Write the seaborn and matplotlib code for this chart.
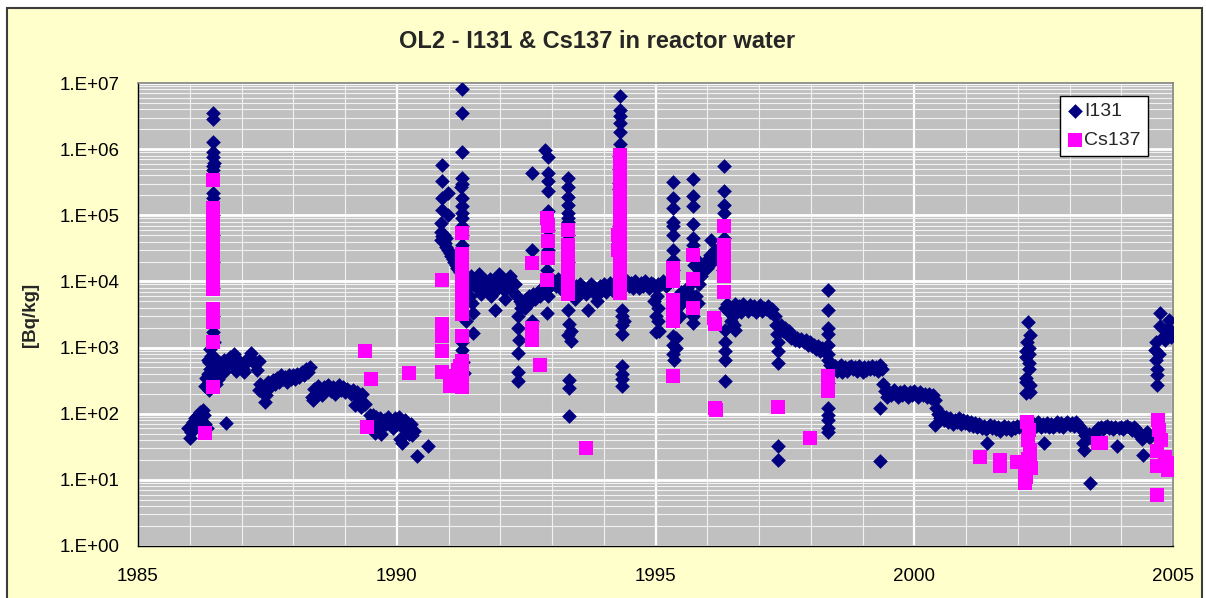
import matplotlib
matplotlib.use("Agg")
import matplotlib.pyplot as plt
from matplotlib.patches import Rectangle
from matplotlib.ticker import FixedLocator, LogLocator, FuncFormatter, NullFormatter, MultipleLocator
import numpy as np
import pandas as pd
import seaborn as sns

# ---- I131 activity in reactor water [Bq/kg], (decimal year, value) ----
i131_1986_1987 = [
    (1985.97, 60), (1986.00, 43), (1986.02, 52), (1986.04, 68), (1986.06, 75), (1986.08, 58),
    (1986.10, 85), (1986.12, 66), (1986.14, 92), (1986.16, 96), (1986.18, 72), (1986.20, 105),
    (1986.22, 80), (1986.25, 115), (1986.28, 95), (1986.30, 70), (1986.33, 60),
    (1986.45, 3.5e6), (1986.45, 2.9e6), (1986.45, 1.3e6), (1986.45, 9.0e5), (1986.45, 7.5e5),
    (1986.46, 6.2e5), (1986.44, 5.5e5), (1986.45, 4.8e5), (1986.45, 2.2e5), (1986.45, 1.8e5),
    (1986.45, 1.0e5), (1986.45, 5.0e4), (1986.45, 2.0e4), (1986.45, 8.0e3), (1986.45, 3.0e3),
    (1986.45, 1.7e3), (1986.46, 1.2e3),
    (1986.40, 950), (1986.42, 750), (1986.38, 600), (1986.40, 480), (1986.42, 380), (1986.38, 300),
    (1986.40, 250), (1986.48, 700), (1986.50, 550), (1986.52, 420), (1986.55, 330), (1986.50, 280),
    (1986.38, 230), (1986.36, 400), (1986.36, 650), (1986.30, 260), (1986.32, 350), (1986.70, 72),
    (1986.58, 480), (1986.62, 560), (1986.66, 650), (1986.70, 520), (1986.74, 600), (1986.78, 720),
    (1986.82, 560), (1986.86, 800), (1986.90, 640), (1986.94, 520), (1986.98, 600), (1987.02, 480),
    (1987.06, 560), (1987.10, 640), (1987.14, 720), (1987.18, 820), (1987.22, 660), (1987.26, 560),
    (1987.30, 460), (1987.33, 620), (1986.66, 420), (1986.90, 440), (1987.05, 430),
]

i131_1987_1990 = [
    (1987.36, 280), (1987.40, 210), (1987.45, 150), (1987.45, 250), (1987.48, 190), (1987.52, 300),
    (1987.56, 260), (1987.60, 320), (1987.64, 280), (1987.68, 350), (1987.72, 300), (1987.76, 380),
    (1987.80, 330), (1987.84, 360), (1987.88, 300), (1987.92, 390), (1987.96, 340), (1988.00, 380),
    (1988.04, 330), (1988.08, 400), (1988.12, 360), (1988.16, 420), (1988.20, 380), (1988.24, 470),
    (1988.28, 430), (1988.32, 500), (1987.34, 230), (1987.50, 230),
    (1988.36, 180), (1988.39, 160), (1988.40, 240), (1988.44, 200), (1988.48, 260), (1988.52, 220),
    (1988.56, 190), (1988.60, 250), (1988.64, 230), (1988.68, 270), (1988.72, 220), (1988.76, 250),
    (1988.80, 200), (1988.84, 240), (1988.88, 270), (1988.92, 230), (1988.96, 250), (1989.00, 210),
    (1989.04, 240), (1989.08, 220), (1989.12, 200), (1989.16, 230), (1989.20, 190), (1989.24, 210),
    (1989.28, 180), (1989.32, 200), (1989.19, 135), (1989.39, 140), (1989.30, 125),
    (1989.48, 95), (1989.52, 80), (1989.54, 96), (1989.56, 70), (1989.58, 51), (1989.60, 90),
    (1989.64, 75), (1989.68, 85), (1989.72, 65), (1989.76, 80), (1989.80, 70), (1989.84, 90),
    (1989.88, 75), (1989.92, 60), (1989.96, 85), (1990.00, 70), (1990.04, 90), (1990.08, 75),
    (1990.12, 60), (1990.16, 80), (1990.20, 65), (1990.24, 50), (1990.28, 70), (1990.30, 48),
    (1990.34, 55), (1990.10, 36), (1990.39, 23), (1990.60, 32), (1989.70, 50), (1990.06, 42),
]

i131_1990_1993 = [
    (1990.87, 5.7e5), (1990.87, 3.3e5), (1990.87, 1.8e5), (1990.99, 2.2e5), (1990.87, 1.2e5),
    (1990.99, 1.0e5), (1990.86, 7.6e4), (1990.85, 5.5e4), (1990.88, 4.8e4), (1990.90, 4.2e4),
    (1990.93, 3.8e4), (1990.96, 3.3e4), (1990.99, 3.0e4), (1991.02, 2.7e4), (1991.05, 2.4e4),
    (1991.08, 2.2e4), (1991.11, 2.0e4), (1991.14, 1.8e4), (1991.17, 1.6e4), (1991.20, 1.5e4),
    (1991.23, 1.4e4), (1990.86, 4.2e4), (1990.92, 5.0e4), (1990.95, 4.5e4),
    (1991.26, 8.1e6), (1991.26, 3.5e6), (1991.26, 9.1e5), (1991.26, 3.6e5), (1991.26, 3.0e5),
    (1991.24, 2.7e5), (1991.26, 1.8e5), (1991.26, 1.4e5), (1991.26, 1.1e5), (1991.26, 9.0e4),
    (1991.26, 7.0e4), (1991.26, 5.0e4), (1991.26, 3.5e4),
    (1991.47, 3.3e3), (1991.45, 4.8e3), (1991.47, 1.66e3), (1991.33, 2.5e3), (1991.26, 920),
    (1991.30, 410), (1991.28, 600), (1991.26, 1.2e3), (1991.30, 5.0e3),
    (1991.36, 1.1e4), (1991.40, 8.5e3), (1991.44, 1.2e4), (1991.48, 9.0e3), (1991.52, 1.05e4),
    (1991.56, 8.0e3), (1991.60, 1.15e4), (1991.64, 9.5e3), (1991.68, 7.5e3), (1991.72, 1.0e4),
    (1991.76, 8.5e3), (1991.80, 1.1e4), (1991.84, 9.0e3), (1991.88, 7.0e3), (1991.90, 3.7e3),
    (1991.92, 1.0e4), (1991.96, 8.0e3), (1992.00, 1.1e4), (1992.04, 9.0e3), (1992.08, 7.5e3),
    (1992.12, 1.0e4), (1992.16, 8.5e3), (1992.20, 9.5e3), (1992.24, 7.0e3), (1992.28, 9.0e3),
    (1992.32, 6.0e3), (1991.42, 6.0e3), (1991.62, 6.5e3), (1991.82, 6.0e3), (1992.10, 5.5e3),
    (1991.58, 1.3e4), (1991.98, 1.3e4), (1992.18, 1.2e4),
    (1992.35, 3.0e3), (1992.35, 2.0e3), (1992.36, 1.3e3), (1992.35, 830), (1992.35, 420),
    (1992.35, 310), (1992.38, 5.0e3), (1992.40, 4.0e3), (1992.42, 4.5e3), (1992.45, 5.0e3),
    (1992.48, 4.0e3), (1992.50, 5.5e3), (1992.53, 4.5e3), (1992.56, 6.0e3), (1992.60, 5.0e3),
    (1992.62, 3.0e4), (1992.62, 4.4e5), (1992.62, 2.5e3), (1992.64, 6.5e3), (1992.68, 5.5e3),
    (1992.72, 7.0e3), (1992.76, 6.0e3), (1992.80, 8.0e3), (1992.84, 7.0e3), (1992.88, 9.0e3),
    (1992.92, 8.0e3), (1992.96, 1.0e4), (1993.00, 9.0e3),
    (1992.87, 9.6e5), (1992.92, 7.7e5), (1992.92, 4.3e5), (1992.92, 3.3e5), (1992.92, 2.3e5),
    (1992.92, 1.15e5), (1992.90, 9.0e4), (1992.90, 1.5e4), (1992.92, 6.0e3), (1992.90, 3.3e3),
    (1992.92, 6.0e4), (1992.92, 3.0e4),
]

i131_1993_1995 = [
    (1993.30, 3.6e5), (1993.30, 2.7e5), (1993.30, 1.9e5), (1993.30, 1.45e5), (1993.30, 1.1e5),
    (1993.30, 9.0e4), (1993.30, 8.0e4), (1993.30, 5.0e4), (1993.30, 2.0e4), (1993.30, 3.7e3),
    (1993.33, 2.3e3), (1993.36, 1.8e3), (1993.31, 1.55e3), (1993.36, 1.25e3), (1993.32, 320),
    (1993.32, 245), (1993.32, 93),
    (1993.04, 1.0e4), (1993.08, 8.5e3), (1993.12, 1.1e4), (1993.16, 9.0e3), (1993.20, 7.5e3),
    (1993.24, 9.0e3), (1993.38, 8.0e3), (1993.42, 7.0e3), (1993.46, 8.5e3), (1993.50, 7.5e3),
    (1993.54, 9.0e3), (1993.58, 7.0e3), (1993.62, 8.0e3), (1993.66, 6.5e3), (1993.70, 3.7e3),
    (1993.72, 7.5e3), (1993.76, 9.0e3), (1993.80, 7.0e3), (1993.84, 8.0e3), (1993.88, 6.5e3),
    (1993.92, 8.5e3), (1993.96, 7.5e3), (1994.00, 9.0e3), (1994.04, 7.0e3), (1994.08, 8.0e3),
    (1994.12, 9.5e3), (1994.16, 7.5e3), (1994.20, 8.5e3), (1994.24, 7.0e3), (1993.44, 5.5e3),
    (1993.86, 5.0e3),
    (1994.32, 6.3e6), (1994.32, 3.9e6), (1994.32, 3.2e6), (1994.32, 2.5e6), (1994.32, 1.8e6),
    (1994.32, 1.2e6), (1994.30, 3.1e5), (1994.29, 2.5e5), (1994.29, 7.0e4), (1994.29, 5.0e4),
    (1994.29, 4.0e4), (1994.30, 8.0e5), (1994.30, 5.0e5),
    (1994.36, 3.7e3), (1994.36, 3.0e3), (1994.36, 2.2e3), (1994.36, 1.6e3), (1994.40, 2.5e3),
    (1994.36, 520), (1994.36, 400), (1994.36, 330), (1994.36, 260),
    (1994.44, 1.0e4), (1994.48, 8.5e3), (1994.52, 9.5e3), (1994.56, 8.0e3), (1994.60, 1.0e4),
    (1994.64, 9.0e3), (1994.68, 8.0e3), (1994.72, 9.5e3), (1994.76, 8.5e3), (1994.80, 1.0e4),
    (1994.84, 9.0e3), (1994.88, 8.0e3), (1994.92, 9.5e3), (1994.96, 9.0e3), (1995.00, 8.0e3),
    (1994.98, 5.0e3), (1995.00, 3.0e3), (1995.00, 1.7e3),
]

i131_1995_1998 = [
    (1995.02, 6.0e3), (1995.04, 4.0e3), (1995.05, 2.5e3), (1995.06, 1.8e3), (1995.04, 9.0e3),
    (1995.10, 9.0e3), (1995.15, 1.0e4), (1995.20, 8.5e3), (1995.25, 9.0e3), (1995.28, 1.1e4),
    (1995.34, 3.2e5), (1995.34, 1.8e5), (1995.34, 1.3e5), (1995.34, 8.0e4), (1995.34, 7.0e4),
    (1995.34, 5.1e4), (1995.34, 3.0e4), (1995.34, 2.1e4), (1995.34, 1.5e4), (1995.34, 1.0e4),
    (1995.34, 5.0e3), (1995.34, 1.5e3), (1995.34, 1.1e3), (1995.34, 800), (1995.36, 650),
    (1995.40, 1.4e3), (1995.40, 1.0e3), (1995.38, 2.5e3), (1995.42, 4.0e3), (1995.47, 3.0e3),
    (1995.45, 6.0e3), (1995.50, 7.0e3), (1995.55, 5.0e3), (1995.60, 8.0e3), (1995.65, 6.0e3),
    (1995.73, 3.5e5), (1995.73, 1.95e5), (1995.73, 1.4e5), (1995.73, 7.3e4), (1995.73, 4.6e4),
    (1995.73, 3.5e4), (1995.75, 1.8e4), (1995.73, 1.0e4), (1995.73, 6.0e3), (1995.73, 3.0e3),
    (1995.73, 2.35e3),
    (1995.80, 2.1e4), (1995.85, 1.5e4), (1995.88, 1.2e4), (1995.85, 9.0e3), (1995.78, 6.0e3),
    (1995.82, 4.7e3), (1995.90, 1.5e4), (1995.95, 2.0e4), (1996.00, 1.6e4), (1996.05, 2.5e4),
    (1996.08, 4.3e4), (1996.10, 2.0e4), (1996.15, 3.0e4), (1996.20, 2.2e4),
    (1996.33, 5.5e5), (1996.33, 2.3e5), (1996.33, 1.45e5), (1996.33, 1.1e5), (1996.33, 4.6e4),
    (1996.34, 4.0e3), (1996.34, 1.85e3), (1996.34, 1.2e3), (1996.34, 900), (1996.34, 650),
    (1996.34, 310), (1996.54, 1.85e3), (1996.30, 2.0e4), (1996.30, 1.5e4),
    (1996.38, 4.5e3), (1996.42, 3.5e3), (1996.46, 4.0e3), (1996.50, 3.0e3), (1996.54, 4.5e3),
    (1996.58, 3.8e3), (1996.62, 4.2e3), (1996.66, 3.5e3), (1996.70, 4.5e3), (1996.74, 4.0e3),
    (1996.78, 3.6e3), (1996.82, 4.4e3), (1996.86, 3.8e3), (1996.90, 4.2e3), (1996.94, 3.5e3),
    (1996.98, 4.0e3), (1997.02, 4.4e3), (1997.06, 3.6e3), (1997.10, 4.0e3), (1997.14, 3.8e3),
    (1997.18, 4.2e3), (1997.22, 3.5e3), (1997.26, 3.8e3), (1996.45, 2.5e3), (1996.52, 2.2e3),
    (1997.30, 3.0e3), (1997.32, 2.2e3), (1997.34, 1.6e3), (1997.36, 1.2e3), (1997.37, 900),
    (1997.37, 590), (1997.37, 32), (1997.37, 20),
    (1997.42, 2.2e3), (1997.46, 1.8e3), (1997.50, 2.0e3), (1997.54, 1.6e3), (1997.58, 1.8e3),
    (1997.62, 1.4e3), (1997.66, 1.5e3), (1997.70, 1.3e3), (1997.74, 1.4e3), (1997.78, 1.25e3),
    (1997.82, 1.35e3), (1997.86, 1.2e3), (1997.90, 1.3e3), (1997.94, 1.1e3), (1997.98, 1.2e3),
    (1998.02, 1.05e3), (1998.06, 1.1e3), (1998.10, 950), (1998.14, 1.05e3), (1998.18, 900),
    (1998.22, 1.0e3), (1998.26, 880),
]

i131_1998_2002 = [
    (1998.33, 7.4e3), (1998.33, 3.7e3), (1998.33, 2.0e3), (1998.33, 1.6e3), (1998.33, 1.1e3),
    (1998.33, 800), (1998.33, 650), (1998.33, 290), (1998.33, 120), (1998.34, 95), (1998.33, 80),
    (1998.34, 60), (1998.33, 52),
    (1998.38, 550), (1998.42, 480), (1998.46, 520), (1998.50, 450), (1998.54, 500), (1998.58, 540),
    (1998.62, 470), (1998.66, 510), (1998.70, 450), (1998.74, 500), (1998.78, 530), (1998.82, 470),
    (1998.86, 500), (1998.90, 450), (1998.94, 520), (1998.98, 480), (1999.02, 500), (1999.06, 460),
    (1999.10, 510), (1999.14, 480), (1999.18, 520), (1999.22, 470), (1999.26, 500), (1999.30, 450),
    (1999.34, 550), (1999.38, 480), (1998.60, 420), (1999.00, 420), (1999.34, 120), (1999.34, 19),
    (1999.40, 280), (1999.44, 220), (1999.48, 180), (1999.52, 210), (1999.56, 190), (1999.60, 230),
    (1999.64, 200), (1999.68, 180), (1999.72, 210), (1999.76, 190), (1999.80, 220), (1999.84, 200),
    (1999.88, 180), (1999.92, 210), (1999.96, 190), (2000.00, 220), (2000.04, 200), (2000.08, 180),
    (2000.12, 210), (2000.16, 190), (2000.20, 200), (2000.24, 180), (2000.28, 200), (2000.32, 170),
    (2000.36, 190), (2000.40, 160),
    (2000.42, 120), (2000.46, 100), (2000.50, 85), (2000.54, 95), (2000.58, 80), (2000.62, 90),
    (2000.66, 75), (2000.70, 85), (2000.74, 70), (2000.78, 80), (2000.82, 75), (2000.86, 85),
    (2000.90, 70), (2000.94, 80), (2000.98, 72), (2001.02, 78), (2001.06, 68), (2001.10, 75),
    (2001.14, 65), (2001.18, 72), (2001.22, 62), (2001.26, 70), (2001.30, 60), (2001.34, 66),
    (2001.38, 58), (2001.42, 64), (2000.40, 68), (2001.40, 36),
    (2001.46, 68), (2001.50, 60), (2001.54, 65), (2001.58, 58), (2001.62, 62), (2001.66, 55),
    (2001.70, 60), (2001.74, 66), (2001.78, 58), (2001.82, 62), (2001.86, 56), (2001.90, 64),
    (2001.94, 60), (2001.98, 66), (2002.02, 62),
]

i131_2002_2005 = [
    (2002.20, 2.4e3), (2002.23, 1.55e3), (2002.21, 1.0e3), (2002.16, 900), (2002.16, 720),
    (2002.21, 590), (2002.21, 480), (2002.16, 350), (2002.15, 205), (2002.23, 270), (2002.24, 210),
    (2002.16, 300), (2002.22, 800), (2002.18, 1.2e3),
    (2002.28, 60), (2002.32, 70), (2002.36, 65), (2002.40, 75), (2002.44, 62), (2002.50, 36),
    (2002.48, 70), (2002.52, 66), (2002.56, 72), (2002.60, 64), (2002.64, 70), (2002.68, 62),
    (2002.72, 68), (2002.76, 74), (2002.80, 66), (2002.84, 72), (2002.88, 64), (2002.92, 70),
    (2002.96, 76), (2003.00, 68), (2003.04, 72), (2003.08, 66), (2003.12, 74), (2003.16, 68),
    (2003.20, 62), (2003.24, 56), (2003.26, 36), (2003.28, 28), (2003.30, 48), (2003.34, 44),
    (2003.38, 50), (2003.40, 9),
    (2003.44, 42), (2003.48, 48), (2003.52, 55), (2003.56, 60), (2003.60, 64), (2003.64, 58),
    (2003.68, 62), (2003.72, 66), (2003.76, 60), (2003.80, 64), (2003.84, 58), (2003.88, 62),
    (2003.92, 32), (2003.96, 60), (2004.00, 64), (2004.04, 58), (2004.08, 62), (2004.12, 66),
    (2004.16, 60), (2004.20, 56), (2004.24, 62), (2004.28, 58), (2004.32, 52), (2004.36, 46),
    (2004.40, 42), (2004.42, 24), (2004.46, 48), (2004.50, 52), (2004.54, 45),
    (2004.75, 3.3e3), (2004.93, 2.6e3), (2004.75, 2.1e3), (2004.80, 1.45e3), (2004.93, 1.9e3),
    (2004.68, 1.2e3), (2004.66, 930), (2004.68, 650), (2004.69, 480), (2004.69, 380), (2004.70, 270),
    (2004.97, 1.45e3), (2004.85, 1.3e3), (2004.88, 1.6e3), (2004.90, 2.0e3), (2004.72, 800),
    (2004.56, 45),
]

# ---- Cs137 activity in reactor water [Bq/kg], (decimal year, value) ----
cs137_1986_1991 = [
    (1986.30, 51), (1986.45, 250), (1986.45, 1.2e3), (1986.45, 3.4e5),
    (1986.45, 1.3e5), (1986.45, 9.5e4), (1986.45, 7.0e4), (1986.45, 5.0e4), (1986.45, 3.6e4),
    (1986.45, 2.6e4), (1986.45, 1.9e4), (1986.45, 1.4e4), (1986.45, 1.0e4), (1986.45, 7.6e3),
    (1986.45, 3.8e3), (1986.45, 3.0e3), (1986.45, 2.4e3),
    (1989.39, 890), (1989.50, 330), (1989.42, 63), (1990.24, 415),
    (1990.87, 1.05e4), (1990.87, 2.3e3), (1990.87, 1.8e3), (1990.87, 1.5e3), (1990.87, 900),
    (1990.88, 420), (1991.03, 370), (1991.03, 260), (1991.18, 460), (1991.22, 290), (1991.22, 530),
    (1991.26, 5.4e4), (1991.26, 2.6e4), (1991.26, 1.8e4), (1991.26, 1.3e4), (1991.26, 9.0e3),
    (1991.26, 6.5e3), (1991.26, 4.4e3), (1991.26, 3.2e3), (1991.26, 1.5e3), (1991.26, 620),
    (1991.26, 430), (1991.26, 300), (1991.26, 250),
]

cs137_1992_1998 = [
    (1992.62, 1.9e4), (1992.62, 2.0e3), (1992.62, 1.3e3), (1992.77, 550),
    (1992.90, 9.0e4), (1992.92, 7.0e4), (1992.92, 4.1e4), (1992.92, 2.3e4), (1992.90, 1.05e4),
    (1993.30, 6.0e4), (1993.30, 3.6e4), (1993.30, 2.6e4), (1993.30, 1.8e4), (1993.30, 1.3e4),
    (1993.30, 9.0e3), (1993.30, 6.5e3), (1993.66, 30),
    (1994.32, 8.1e5), (1994.32, 5.8e5), (1994.32, 4.1e5), (1994.32, 2.9e5), (1994.32, 2.0e5),
    (1994.32, 1.45e5), (1994.32, 1.0e5), (1994.32, 7.2e4), (1994.32, 5.0e4), (1994.32, 3.6e4),
    (1994.32, 2.5e4), (1994.32, 1.8e4), (1994.32, 1.3e4), (1994.32, 9.2e3), (1994.32, 6.8e3),
    (1994.27, 5.0e4), (1994.27, 3.0e4),
    (1995.34, 1.6e4), (1995.34, 1.0e4), (1995.34, 5.2e3), (1995.34, 3.6e3), (1995.34, 2.5e3),
    (1995.34, 370),
    (1995.73, 2.5e4), (1995.73, 1.1e4), (1995.73, 4.0e3),
    (1996.15, 2.3e3), (1996.14, 2.8e3), (1996.15, 123), (1996.16, 115),
    (1996.33, 6.8e4), (1996.33, 3.6e4), (1996.33, 2.5e4), (1996.33, 1.7e4), (1996.33, 1.2e4),
    (1996.33, 7.0e3),
    (1997.37, 125), (1997.99, 43), (1998.33, 370), (1998.33, 300), (1998.33, 220),
]

cs137_2001_2005 = [
    (2001.27, 22.5), (2001.66, 16), (2001.66, 20), (2001.98, 18.6),
    (2002.18, 74), (2002.22, 56), (2002.20, 40), (2002.23, 28), (2002.20, 21), (2002.24, 18),
    (2002.23, 16), (2002.14, 14), (2002.15, 11), (2002.14, 8.9), (2002.25, 15),
    (2003.55, 36), (2003.60, 36),
    (2004.71, 80), (2004.73, 56), (2004.76, 40), (2004.70, 27), (2004.69, 16), (2004.70, 5.9),
    (2004.89, 18), (2004.91, 14), (2004.84, 22), (2004.95, 18), (2004.98, 15),
]

series_labels = ["I131", "Cs137"]
year_ticks = [1985, 1990, 1995, 2000, 2005]


def to_frame(chunks):
    rows = [pt for chunk in chunks for pt in chunk]
    return pd.DataFrame(rows, columns=["year", "value"])


i131 = to_frame([i131_1986_1987, i131_1987_1990, i131_1990_1993, i131_1993_1995,
                 i131_1995_1998, i131_1998_2002, i131_2002_2005])
cs137 = to_frame([cs137_1986_1991, cs137_1992_1998, cs137_2001_2005])

sns.set_theme(style="white")
plt.rcParams["font.family"] = ["Liberation Sans", "DejaVu Sans"]

W, H = 1206, 598
fig = plt.figure(figsize=(W / 100, H / 100), dpi=100, facecolor="white")

# pale yellow chart area with dark frame
fig.patches.append(Rectangle((7 / W, -0.05), (1202 - 7) / W, 1.05 - 8 / H,
                             transform=fig.transFigure, facecolor="#FFFFCC",
                             edgecolor="#3c3c3c", linewidth=1.5, zorder=-1))

ax = fig.add_axes([138 / W, (H - 546) / H, (1173 - 138) / W, (546 - 83) / H])
ax.set_facecolor("#C0C0C0")
ax.set_axisbelow(True)

sns.scatterplot(data=i131, x="year", y="value", marker="D", s=56, color="#000080",
                linewidth=0, ax=ax, label=series_labels[0], zorder=3)
sns.scatterplot(data=cs137, x="year", y="value", marker="s", s=88, color="#FF00FF",
                linewidth=0, ax=ax, label=series_labels[1], zorder=4)

ax.set_yscale("log")
ax.set_ylim(1, 1e7)
ax.set_xlim(1985, 2005)
ax.set_xlabel("")
ax.set_ylabel("")
ax.xaxis.get_offset_text().set_visible(False)
ax.yaxis.get_offset_text().set_visible(False)

ax.xaxis.set_major_locator(FixedLocator(year_ticks))
ax.xaxis.set_minor_locator(MultipleLocator(1))
ax.xaxis.set_major_formatter(FuncFormatter(lambda v, p: f"{int(round(v))}"))
ax.yaxis.set_major_locator(LogLocator(base=10, numticks=20))
ax.yaxis.set_minor_locator(LogLocator(base=10, subs=np.arange(2, 10), numticks=20))
ax.yaxis.set_major_formatter(FuncFormatter(lambda v, p: f"1.E+{int(round(np.log10(v))):02d}"))
ax.yaxis.set_minor_formatter(NullFormatter())

ax.tick_params(axis="both", which="both", direction="out", length=5, width=1,
               color="black", labelsize=13.5, labelcolor="black")
ax.tick_params(axis="x", which="major", pad=11)
ax.tick_params(axis="y", which="major", pad=8)
ax.tick_params(axis="y", which="minor", length=4)

ax.grid(True, which="major", axis="y", color="white", linewidth=2.0)
ax.grid(True, which="minor", axis="y", color="#F2F2F2", linewidth=0.8)
ax.grid(True, which="major", axis="x", color="white", linewidth=1.6)
ax.grid(True, which="minor", axis="x", color="#F2F2F2", linewidth=0.8)

for side in ("left", "bottom"):
    ax.spines[side].set_color("black")
    ax.spines[side].set_linewidth(1)
for side in ("top", "right"):
    ax.spines[side].set_color("#808080")
    ax.spines[side].set_linewidth(1.2)

fig.text(597.5 / W, 1 - 42 / H, "OL2 - I131 & Cs137 in reactor water", ha="center",
         va="center", fontsize=17, fontweight="bold")
fig.text(30 / W, 1 - 315 / H, "[Bq/kg]", ha="center", va="center", rotation=90,
         fontsize=13.5, fontweight="bold")

handles, labels = ax.get_legend_handles_labels()
leg = ax.legend(handles, labels, loc="upper left", bbox_to_anchor=(1060 / W, 1 - 96 / H),
                bbox_transform=fig.transFigure, frameon=True, fancybox=False, framealpha=1,
                facecolor="white", edgecolor="black", fontsize=14, handletextpad=0.1,
                borderpad=0.35, handlelength=0.8, labelspacing=0.55, borderaxespad=0)
leg.get_frame().set_linewidth(1)

fig.savefig("out.png", dpi=100, facecolor=fig.get_facecolor())
